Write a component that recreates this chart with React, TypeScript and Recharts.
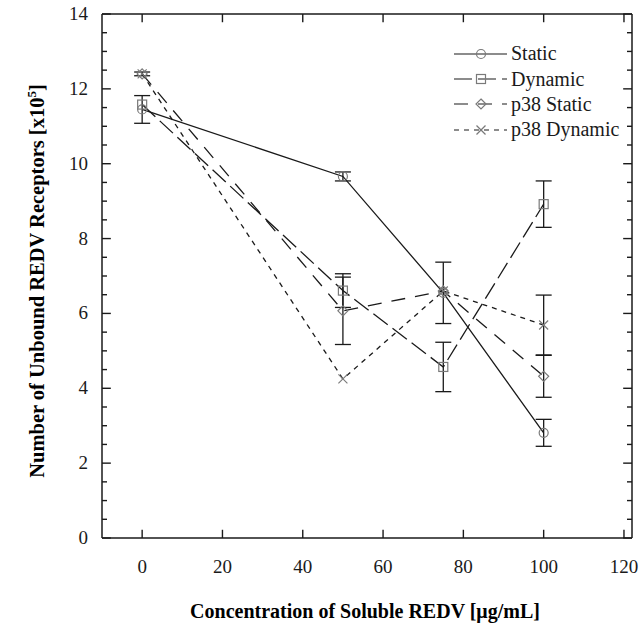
import React from 'react';
import { LineChart, Line, XAxis, YAxis, ErrorBar, Legend, ReferenceLine } from 'recharts';

// x values (ug/mL) and readings (x10^5 receptors)
const concentrations = [0, 50, 75, 100];

const staticVals = [11.45, 9.66, 6.55, 2.81];
const staticErr = [0.37, 0.12, 0.82, 0.36];
const dynamicVals = [11.58, 6.61, 4.57, 8.92];
const dynamicErr = [null, 0.45, 0.66, 0.62];
const p38StaticVals = [12.4, 6.07, 6.6, 4.32];
const p38StaticErr = [null, 0.9, null, 0.56];
const p38DynamicVals = [12.4, 4.25, 6.6, 5.69];
const p38DynamicErr = [0.05, null, null, 0.8];

const xTicks = [0, 20, 40, 60, 80, 100, 120];
const yTicks = [0, 0.5, 1, 1.5, 2, 2.5, 3, 3.5, 4, 4.5, 5, 5.5, 6, 6.5, 7, 7.5, 8, 8.5, 9, 9.5, 10, 10.5, 11, 11.5, 12, 12.5, 13, 13.5, 14];
const yLabelTicks = [0, 2, 4, 6, 8, 10, 12, 14];

const X_DOMAIN = [-10, 122];
const Y_DOMAIN = [0, 14];
// inward tick lengths in axis units (about 8-9 px major, 5 px minor)
const X_TICK_LEN = 0.22;
const Y_MAJOR_LEN = 2.2;
const Y_MINOR_LEN = 1.25;

const SERIF = '"Liberation Serif", "Times New Roman", serif';
const INK = '#1a1a1a';
const MARK = '#7a7a7a';

const data = concentrations.map((c, i) => ({
  conc: c,
  stat: staticVals[i],
  statErr: staticErr[i],
  dyn: dynamicVals[i],
  dynErr: dynamicErr[i],
  p38s: p38StaticVals[i],
  p38sErr: p38StaticErr[i],
  p38d: p38DynamicVals[i],
  p38dErr: p38DynamicErr[i],
}));

// markers (hollow, grey)
const CircleMark = ({ cx, cy }: any) => (
  <circle cx={cx} cy={cy} r={4.5} fill="none" stroke={MARK} strokeWidth={1.2} />
);
const SquareMark = ({ cx, cy }: any) => (
  <rect x={cx - 4.5} y={cy - 4.5} width={9} height={9} fill="none" stroke={MARK} strokeWidth={1.2} />
);
const DiamondMark = ({ cx, cy }: any) => (
  <polygon
    points={`${cx},${cy - 5} ${cx + 5},${cy} ${cx},${cy + 5} ${cx - 5},${cy}`}
    fill="none"
    stroke={MARK}
    strokeWidth={1.2}
  />
);
const CrossMark = ({ cx, cy }: any) => (
  <g stroke={MARK} strokeWidth={1.2}>
    <line x1={cx - 4.5} y1={cy - 4.5} x2={cx + 4.5} y2={cy + 4.5} />
    <line x1={cx - 4.5} y1={cy + 4.5} x2={cx + 4.5} y2={cy - 4.5} />
  </g>
);

const dotOf = (Mark: any) => (props: any) => {
  if (props.cx == null || props.cy == null) return <g key={props.key} />;
  return <Mark key={props.key} cx={props.cx} cy={props.cy} />;
};

const seriesList = [
  { key: 'stat', err: 'statErr', name: 'Static', dash: undefined, Mark: CircleMark },
  { key: 'dyn', err: 'dynErr', name: 'Dynamic', dash: '18 6', Mark: SquareMark },
  { key: 'p38s', err: 'p38sErr', name: 'p38 Static', dash: '14 10', Mark: DiamondMark },
  { key: 'p38d', err: 'p38dErr', name: 'p38 Dynamic', dash: '5 5', Mark: CrossMark },
];

const BottomTick = ({ x, y, payload }: any) => (
  <text x={x} y={Number(y) + 35} textAnchor="middle" fontFamily={SERIF} fontSize={19} fill={INK}>
    {payload.value}
  </text>
);
const LeftTick = ({ x, y, payload }: any) => {
  if (!yLabelTicks.includes(payload.value)) return <g />;
  return (
    <text x={Number(x) - 14} y={Number(y) + 6} textAnchor="end" fontFamily={SERIF} fontSize={19} fill={INK}>
      {payload.value}
    </text>
  );
};

const XTitle = () => (
  <text x={365} y={618} textAnchor="middle" fontFamily={SERIF} fontSize={20} fontWeight="bold" fill="#000">
    Concentration of Soluble REDV [μg/mL]
  </text>
);
const YTitle = () => (
  <text
    transform="translate(44, 281) rotate(-90)"
    textAnchor="middle"
    fontFamily={SERIF}
    fontSize={20.5}
    fontWeight="bold"
    fill="#000"
  >
    Number of Unbound REDV Receptors [x10
    <tspan fontSize={13} dy={-8}>5</tspan>
    <tspan dy={8}>]</tspan>
  </text>
);

const renderLegend = () => (
  <div style={{ fontFamily: SERIF, fontSize: 20, color: INK }}>
    {seriesList.map((s) => (
      <div key={s.key} style={{ display: 'flex', alignItems: 'center', height: 25.4 }}>
        <svg width={56} height={20} style={{ display: 'block' }}>
          <line x1={1} y1={10} x2={54} y2={10} stroke={INK} strokeWidth={1.2} strokeDasharray={s.dash} />
          <s.Mark cx={28} cy={10} />
        </svg>
        <span style={{ marginLeft: 2, whiteSpace: 'nowrap' }}>{s.name}</span>
      </div>
    ))}
  </div>
);

const tickSeg = { stroke: INK, strokeWidth: 1.4, ifOverflow: 'visible' as const };

export default function App() {
  return (
    <div style={{ position: 'absolute', left: 0, top: 0, background: '#fff' }}>
      <LineChart width={642} height={632} data={data} margin={{ top: 14, right: 10, left: 42, bottom: 34 }}>
        <XAxis
          dataKey="conc"
          type="number"
          domain={X_DOMAIN}
          ticks={xTicks}
          interval={0}
          allowDataOverflow
          height={60}
          tickSize={0}
          tickMargin={0}
          tickLine={false}
          axisLine={false}
          tick={<BottomTick />}
          label={<XTitle />}
        />
        <YAxis
          type="number"
          domain={Y_DOMAIN}
          ticks={yTicks}
          interval={0}
          allowDataOverflow
          width={60}
          tickSize={0}
          tickMargin={0}
          tickLine={false}
          axisLine={false}
          tick={<LeftTick />}
          label={<YTitle />}
        />

        {/* plot frame */}
        <ReferenceLine y={Y_DOMAIN[0]} stroke={INK} strokeWidth={1.5} ifOverflow="visible" />
        <ReferenceLine y={Y_DOMAIN[1]} stroke={INK} strokeWidth={1.5} ifOverflow="visible" />
        <ReferenceLine x={X_DOMAIN[0]} stroke={INK} strokeWidth={1.5} ifOverflow="visible" />
        <ReferenceLine x={X_DOMAIN[1]} stroke={INK} strokeWidth={1.5} ifOverflow="visible" />

        {/* inward ticks, bottom and top */}
        {xTicks.map((t) => (
          <ReferenceLine key={`xb${t}`} segment={[{ x: t, y: Y_DOMAIN[0] }, { x: t, y: Y_DOMAIN[0] + X_TICK_LEN }]} {...tickSeg} />
        ))}
        {xTicks.map((t) => (
          <ReferenceLine key={`xt${t}`} segment={[{ x: t, y: Y_DOMAIN[1] }, { x: t, y: Y_DOMAIN[1] - X_TICK_LEN }]} {...tickSeg} />
        ))}
        {/* inward ticks, left and right */}
        {yTicks.map((t) => {
          const len = yLabelTicks.includes(t) ? Y_MAJOR_LEN : Y_MINOR_LEN;
          return (
            <ReferenceLine key={`yl${t}`} segment={[{ x: X_DOMAIN[0], y: t }, { x: X_DOMAIN[0] + len, y: t }]} {...tickSeg} />
          );
        })}
        {yTicks.map((t) => {
          const len = yLabelTicks.includes(t) ? Y_MAJOR_LEN : Y_MINOR_LEN;
          return (
            <ReferenceLine key={`yr${t}`} segment={[{ x: X_DOMAIN[1], y: t }, { x: X_DOMAIN[1] - len, y: t }]} {...tickSeg} />
          );
        })}

        <Legend
          layout="vertical"
          align="center"
          verticalAlign="middle"
          content={renderLegend}
          wrapperStyle={{ position: 'absolute', left: 453, top: 41, width: 'auto' }}
        />
        {seriesList.map((s) => (
          <Line
            key={s.key}
            dataKey={s.key}
            name={s.name}
            type="linear"
            stroke={INK}
            strokeWidth={1.3}
            strokeDasharray={s.dash}
            dot={dotOf(s.Mark)}
            activeDot={false}
            isAnimationActive={false}
          >
            <ErrorBar dataKey={s.err} width={8} stroke={INK} strokeWidth={1.3} direction="y" />
          </Line>
        ))}
      </LineChart>
    </div>
  );
}
